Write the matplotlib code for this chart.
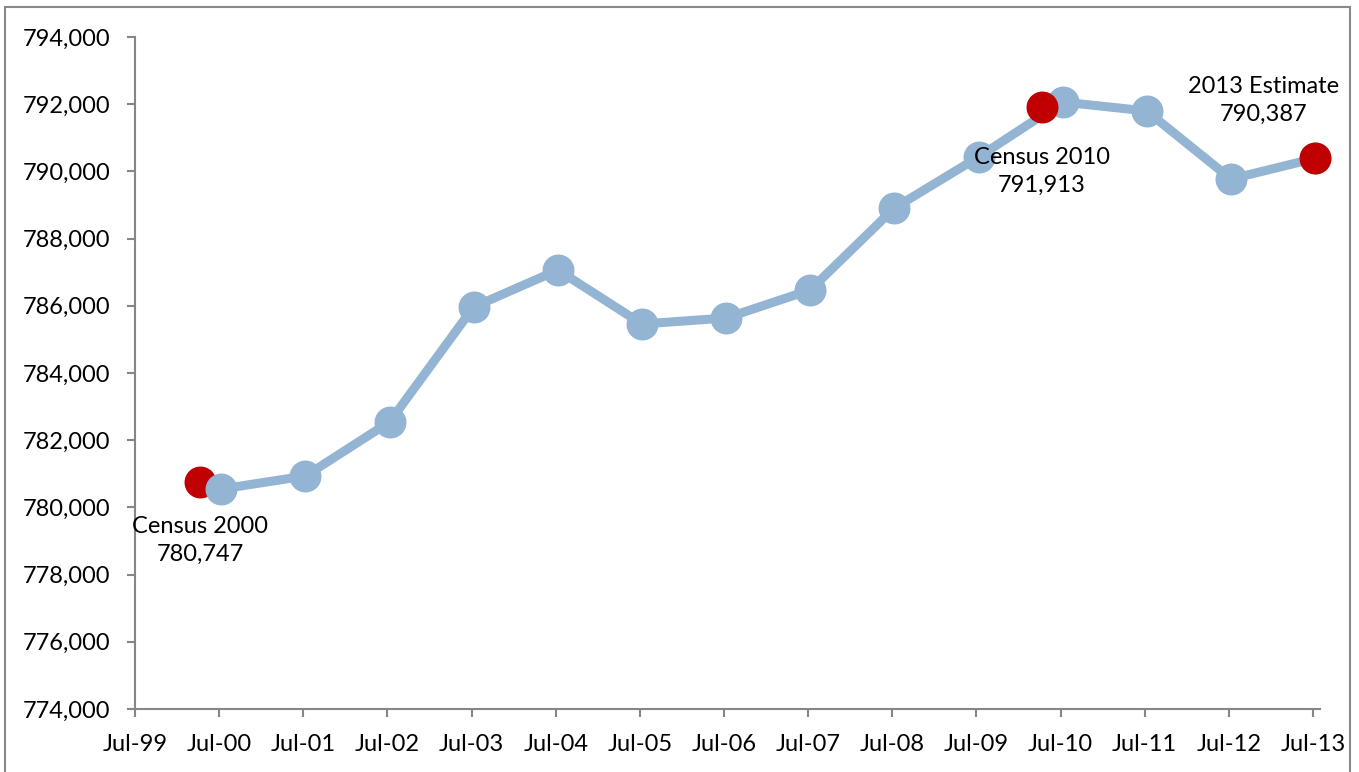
import datetime as dt
import matplotlib
matplotlib.use("Agg")
from matplotlib import pyplot as plt
import matplotlib.dates as mdates
from matplotlib.ticker import FuncFormatter, MultipleLocator
from matplotlib.patches import Rectangle

# yearly estimates (Jul of each year)
years = list(range(2000, 2014))
population = [780548, 780935, 782542, 785964, 787065, 785458, 785637,
              786470, 788911, 790429, 792065, 791798, 789774, 790387]

# census / estimate highlights
red_dates = [dt.date(2000, 4, 1), dt.date(2010, 4, 1), dt.date(2013, 7, 1)]
red_values = [780747, 791913, 790387]
red_labels = ["Census 2000\n780,747", "Census 2010\n791,913", "2013 Estimate\n790,387"]
label_offsets = [(0, -58), (0, -64), (-52, 58)]

tick_years = list(range(1999, 2014))

plt.rcParams['font.family'] = ['Lato', 'DejaVu Sans']

fig = plt.figure(figsize=(13.59, 7.72), dpi=100)
ax = fig.add_axes([135 / 1359, 1 - 709 / 772, (1320 - 135) / 1359, (709 - 37) / 772])

blue = "#93b4d2"
red = "#c00000"
dates = [dt.date(y, 7, 10) for y in years]
red_dates = [d + dt.timedelta(days=9) for d in red_dates]

# census 2000 sits under the line, the others on top
ax.plot(red_dates[:1], red_values[:1], 'o', color=red, markersize=22, zorder=2, clip_on=False)
ax.plot(dates, population, '-o', color=blue, lw=6.5, markersize=22, zorder=3, clip_on=False)
ax.plot(red_dates[1:], red_values[1:], 'o', color=red, markersize=22, zorder=4, clip_on=False)

for d, v, lab, off in zip(red_dates, red_values, red_labels, label_offsets):
    ax.annotate(lab, (mdates.date2num(d), v), xytext=off, textcoords='offset pixels',
                ha='center', va='center', fontsize=17, linespacing=1.4, zorder=5)

ax.set_ylim(774000, 794000)
ax.yaxis.set_major_locator(MultipleLocator(2000))
ax.yaxis.set_major_formatter(FuncFormatter(lambda v, p: f"{int(v):,}"))

xmin = mdates.date2num(dt.date(1999, 7, 1))
xmax = mdates.date2num(dt.date(2013, 7, 1))
ax.set_xlim(xmin, xmax + (xmax - xmin) * (7 / 1178))
ax.set_xticks([mdates.date2num(dt.date(y, 7, 1)) for y in tick_years])
ax.set_xticklabels([f"Jul-{y % 100:02d}" for y in tick_years])

for s in ['top', 'right']:
    ax.spines[s].set_visible(False)
for s in ['left', 'bottom']:
    ax.spines[s].set_color('#868686')
    ax.spines[s].set_linewidth(1.5)
ax.tick_params(direction='out', length=6, width=1.5, color='#868686',
               labelsize=17, labelcolor='black')
ax.tick_params(axis='y', pad=12)
ax.tick_params(axis='x', pad=12)

# chart border
fig.patches.append(Rectangle((5 / 1359, -0.05), (1350 - 5) / 1359, 1.05 - 7 / 772,
                             transform=fig.transFigure, fill=False,
                             edgecolor='#898989', lw=1.5))

fig.savefig("out.png", dpi=100)
